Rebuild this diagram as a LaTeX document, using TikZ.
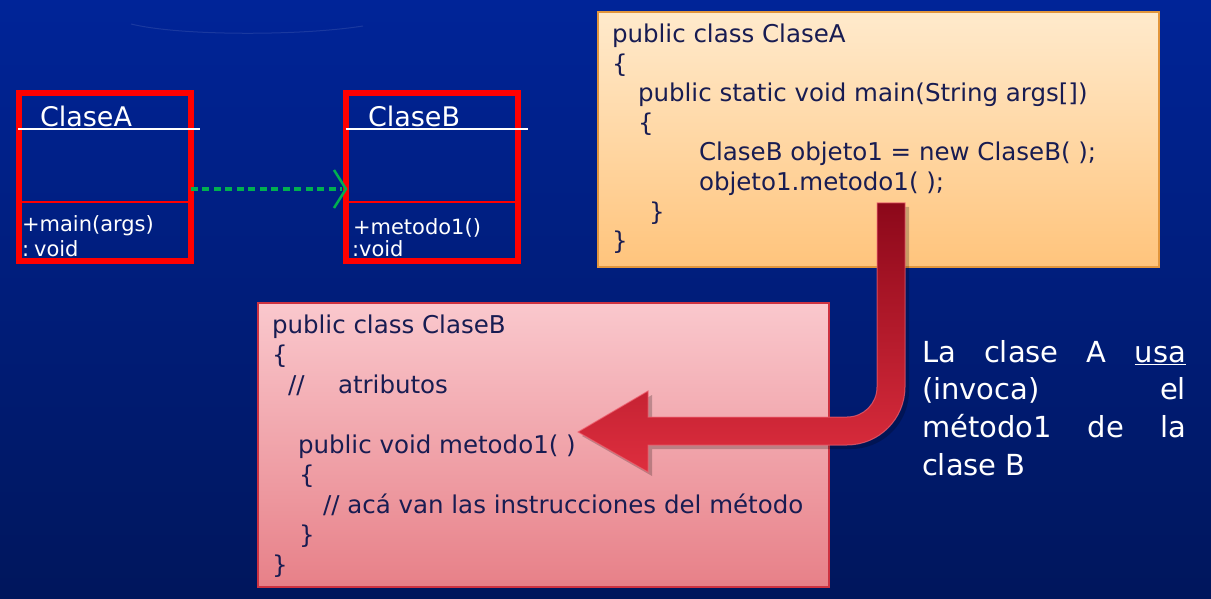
\documentclass[tikz,border=0pt]{standalone}
\usepackage{fontspec}
\setmainfont{DejaVu Sans}
\definecolor{bgtop}{RGB}{0,36,152}
\definecolor{bgbot}{RGB}{0,22,92}
\definecolor{ink}{RGB}{24,28,82}
\definecolor{orTop}{RGB}{255,234,204}
\definecolor{orBot}{RGB}{255,196,124}
\definecolor{orLine}{RGB}{226,150,60}
\definecolor{pkTop}{RGB}{250,200,205}
\definecolor{pkBot}{RGB}{231,128,136}
\definecolor{pkLine}{RGB}{205,50,65}
\definecolor{depgreen}{RGB}{0,176,80}
\definecolor{arDark}{RGB}{140,8,26}
\definecolor{arMid}{RGB}{200,28,48}
\definecolor{arLight}{RGB}{222,46,62}
\definecolor{arEdge}{RGB}{240,100,115}
\begin{document}
\begin{tikzpicture}[x=1pt,y=-1pt,
  every node/.style={inner sep=0pt,outer sep=0pt},
  umlbox/.style={draw=red,line width=5.5pt,minimum width=172pt,minimum height=168pt},
  umltitle/.style={anchor=base west,text=white,font=\fontsize{27}{32}\selectfont},
  umlop/.style={anchor=base west,text=white,font=\fontsize{21}{25}\selectfont},
  codebox/.style={draw,line width=1.2pt},
  codeline/.style={anchor=base west,text=ink,font=\fontsize{24.5}{29.5}\selectfont},
  descline/.style={anchor=base west,text=white,font=\fontsize{29}{38}\selectfont},
  headline/.style={draw=white,line width=1.5pt},
  divline/.style={draw=red,line width=1.5pt},
  depline/.style={draw=depgreen,line width=4pt,dash pattern=on 7pt off 4.5pt},
  deptip/.style={draw=depgreen,line width=2.5pt},
  arrowshape/.style={insert path={
    (877,203) -- (905,203) -- (905,387)
    .. controls (905,419) and (879,445) .. (847,445)
    -- (648,445) -- (648,472) -- (578,432) -- (648,391) -- (648,417) -- (847,417)
    .. controls (863.6,417) and (877,403.6) .. (877,387) -- cycle}}
]
\useasboundingbox (0,0) rectangle (1211,599);
% background
\shade[top color=bgtop,bottom color=bgbot] (0,0) rectangle (1211,599);
\draw[white,opacity=0.1,line width=1pt] (131,24) .. controls (180,36) and (300,36) .. (363,26);

% UML class A
\node[umlbox] (umlA) at (104.75,177) {};
\draw[headline] (18,129) -- (200,129);
\draw[divline] (umlA.west |- 0,202) -- (umlA.east |- 0,202);
\node[umltitle] (tA) at (40,127) {ClaseA};
\node[umlop] (opA1) at (22,231) {+main(args)};
\node[umlop] (opA2) at (22,256) {:\hspace{5pt}void};

% UML class B
\node[umlbox] (umlB) at (432,177) {};
\draw[headline] (345.5,129) -- (528,129);
\draw[divline] (umlB.west |- 0,202) -- (umlB.east |- 0,202);
\node[umltitle] (tB) at (368,127) {ClaseB};
\node[umlop] (opB1) at (353,234) {+metodo1()};
\node[umlop] (opB2) at (352,256) {:void};

% dependency arrow
\coordinate (lvl) at (0,189);
\draw[depline] (umlA.east |- lvl) -- ([xshift=-4pt]umlB.west |- lvl);
\draw[deptip] ([shift={(-12,-19)}]umlB.west |- lvl) -- (umlB.west |- lvl) -- ([shift={(-12,19)}]umlB.west |- lvl);

% code box A
\node[codebox,draw=orLine,top color=orTop,bottom color=orBot,minimum width=561pt,minimum height=255pt] (boxA) at (878.5,139.5) {};
\node[codeline] (a1) at (612,43) {public class ClaseA};
\node[codeline] (a2) at (612,72.5) {\{};
\node[codeline] (a3) at (638,102) {public static void main(String args[])};
\node[codeline] (a4) at (638,131.5) {\{};
\node[codeline] (a5) at (699,161) {ClaseB objeto1 = new ClaseB( );};
\node[codeline] (a6) at (699,190.5) {objeto1.metodo1( );};
\node[codeline] (a7) at (649,220) {\}};
\node[codeline] (a8) at (612,249.5) {\}};

% code box B
\node[codebox,draw=pkLine,top color=pkTop,bottom color=pkBot,minimum width=571pt,minimum height=284pt] (boxB) at (543.5,445) {};
\node[codeline] (b1) at (272,333) {public class ClaseB};
\node[codeline] (b2) at (272,363) {\{};
\node[codeline] (b3) at (288,393) {//\hspace{33.5pt}atributos};
\node[codeline] (b4) at (298,453) {public void metodo1( )};
\node[codeline] (b5) at (299,483) {\{};
\node[codeline] (b6) at (323,513) {// acá van las instrucciones del método};
\node[codeline] (b7) at (299,543) {\}};
\node[codeline] (b8) at (272,573) {\}};

% big call arrow
\fill[black,opacity=0.22,shift={(4,4)},arrowshape];
\shade[top color=arDark,middle color=arMid,bottom color=arLight,arrowshape];
\draw[arEdge,line width=1pt,opacity=0.7,arrowshape];

% description
\node[descline] (d1) at (922,362) {\hbox to 264pt{La\hfil clase\hfil A\hfil \underline{usa}}};
\node[descline] (d2) at (922,399.5) {\hbox to 264pt{(invoca)\hfil el}};
\node[descline] (d3) at (922,437) {\hbox to 264pt{método1\hfil de\hfil la}};
\node[descline] (d4) at (922,475) {clase B};
\end{tikzpicture}
\end{document}
